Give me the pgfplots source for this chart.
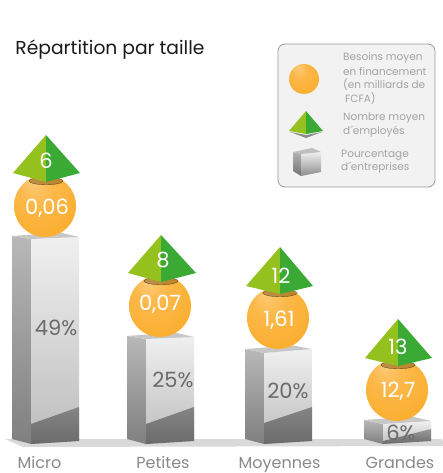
\documentclass[border=0pt]{standalone}
\usepackage{fontspec}
\setmainfont{Poppins}
\usepackage{pgfplots}
\pgfplotsset{compat=1.18}
\definecolor{orangeball}{HTML}{FBB034}
\definecolor{greenlight}{HTML}{95C11F}
\definecolor{greendark}{HTML}{3AAA35}
\definecolor{greytext}{HTML}{6B6B6B}
\definecolor{greylegend}{HTML}{A3A3A3}
\pgfdeclareradialshading{orangesphere}{\pgfpoint{-10bp}{20bp}}{%
  color(0bp)=(orangeball!68!white);
  color(14bp)=(orangeball!90!white);
  color(30bp)=(orangeball);
  color(50bp)=(orangeball)}
% one filled polygon, in picture pixels
\newcommand{\face}[2]{\addplot[draw=none,#1] coordinates {#2} -- cycle;}
% side, front and top of a bar
\newcommand{\barshape}[6]{%
  \face{top color=black!28,bottom color=black!50}{(#1,#2) (#3,#4) (#3,444) (#1,439)}
  \face{top color=black!6,bottom color=black!26}{(#3,#4) (#5,#6) (#5,441) (#3,444)}
  \face{fill=black!22}{(#1,#2) (#3,#4) (#5,#6) (#5-19,#2-3.5)}
}
\pgfplotsset{
  pixels/.style={at={(0,0)}, anchor=south west,
    x=1pt, y=1pt, xmin=0, xmax=442, ymin=0, ymax=473,
    y dir=reverse, scale only axis, hide axis, clip=false},
  labels/.style={only marks, mark=none, nodes near coords, point meta=explicit symbolic,
    nodes near coords style={anchor=center, inner sep=0pt, #1}},
  ball/.style={only marks, mark=none, nodes near coords={}, point meta=x,
    nodes near coords style={anchor=center, circle, inner sep=0pt, minimum size=#1,
      shade, shading=orangesphere}},
  shadow/.style n args={3}{only marks, mark=*, mark size=#1,
    mark options={draw=none, fill=#2, opacity=.5, yscale=#3}},
}
\begin{document}
\begin{tikzpicture}
\useasboundingbox (0,0) rectangle (442pt,473pt);
\begin{axis}[pixels]
% ground
\face{fill=black!15}{(5,439) (442,439) (444,446) (23,447)}
% bars
\barshape{12}{236}{31}{239}{79}{237}
\face{top color=black!48,bottom color=black!58}{(31,424) (79,407) (79,441) (31,444)}
\barshape{127}{336}{146}{339}{194}{337}
\face{top color=black!48,bottom color=black!58}{(146,424) (194,407) (194,441) (146,444)}
\barshape{245}{349}{264}{353}{312}{349}
\face{top color=black!48,bottom color=black!58}{(264,423) (312,407) (312,441) (264,444)}
\barshape{364}{420}{383}{424}{431}{421}
\face{top color=black!40,bottom color=black!58}{(383,441) (431,429) (431,441) (383,444)}
% spheres
\addplot[ball=62pt] coordinates {(45,206) (160,306) (278,318) (397,390)};
\end{axis}
\begin{axis}[pixels]
% shadow of the pyramids on the spheres
\addplot[shadow={17pt}{black!50!orangeball}{.22}] coordinates {(46,181) (161,281) (280,293) (398,365)};
\end{axis}
\begin{axis}[pixels]
% pyramids
\face{fill=greenlight}{(46,135) (13,173) (46,182)}
\face{fill=greendark}{(46,135) (80,173) (46,182)}
\face{fill=greenlight}{(161,235) (128,273) (161,282)}
\face{fill=greendark}{(161,235) (196,273) (161,282)}
\face{fill=greenlight}{(280,247) (246,286) (280,294)}
\face{fill=greendark}{(280,247) (313,286) (280,294)}
\face{fill=greenlight}{(398,319) (365,358) (398,366)}
\face{fill=greendark}{(398,319) (432,358) (398,366)}
% legend
\addplot[rounded corners=7pt, draw=black!40, fill=black!5, line width=.8pt]
  coordinates {(278,44) (435,44) (435,187) (278,187)} -- cycle;
\face{fill=black!45}{(290,132) (306,135) (322,132) (306,138)}
\face{fill=greenlight}{(306,111) (289,131) (306,134)}
\face{fill=greendark}{(306,111) (323,131) (306,134)}
\face{top color=black!30,bottom color=black!55}{(293,152) (301,154) (301,176) (293,171)}
\face{top color=black!6,bottom color=black!45}{(301,154) (321,152) (321,172) (301,176)}
\face{fill=black!25}{(293,152) (301,154) (321,152) (312,148)}
\addplot[ball=30pt] coordinates {(304,79)};
% title
\addplot[labels={font=\fontsize{18.7}{20}\selectfont, text=black!90}]
  table [meta=label, col sep=comma] {
x,y,label
110,50,Répartition par taille
};
% categories
\addplot[labels={anchor=base, font=\fontsize{16}{18}\selectfont, text=greytext!80}]
  table [meta=label, col sep=comma] {
x,y,label
39.5,468.5,Micro
163,468.5,Petites
279.5,468.5,Moyennes
400,468.5,Grandes
};
% percentages of firms
\addplot[labels={font=\fontsize{21}{24}\selectfont, text=greytext}]
  coordinates {(56,328) [49\%] (173,380) [25\%] (288,391) [20\%] (401,433) [6\%]};
% funding needs
\addplot[labels={font=\fontsize{21}{24}\selectfont, text=white}]
  coordinates {(47,208) [{0,06}] (160,304) [{0,07}] (279,320) [{1,61}] (398,391) [{12,7}]};
% staff
\addplot[labels={font=\fontsize{21}{24}\selectfont, text=white}]
  coordinates {(46,161) [6] (163,260) [8] (281,276) [12] (398,347) [13]};
% legend text
\addplot[labels={anchor=west, font=\fontsize{10.5}{12}\selectfont, text=greylegend}]
  table [meta=label, col sep=comma] {
x,y,label
343,58,Besoins moyen
343,72,en financement
343,85,(en milliards de
345,99,FCFA)
343,118,Nombre moyen
343,132,d´employés
341,155,Pourcentage
341,168,d´entreprises
};
\end{axis}
\end{tikzpicture}
\end{document}
